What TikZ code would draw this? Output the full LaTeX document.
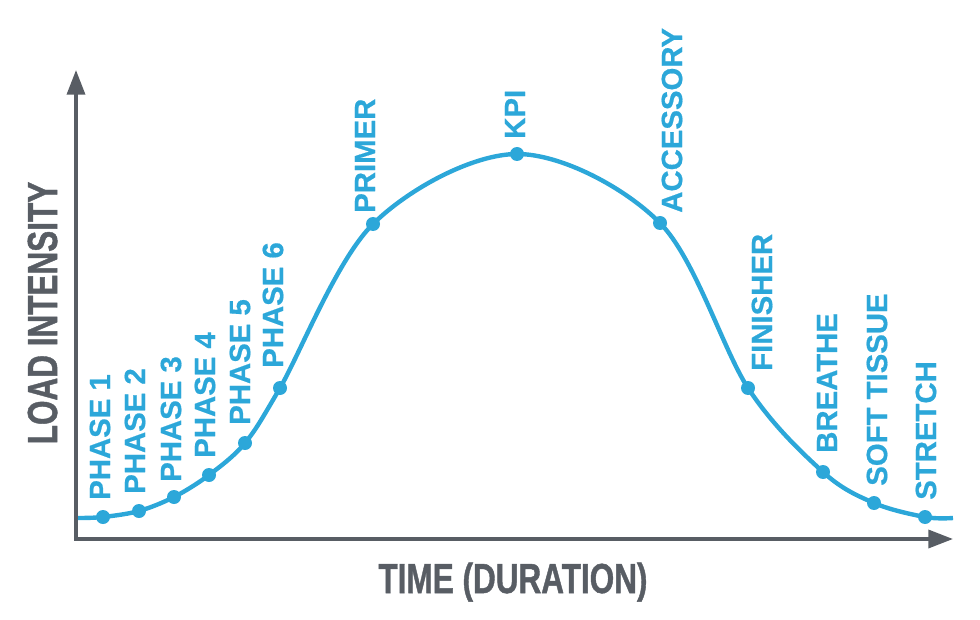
\documentclass[tikz,border=0pt]{standalone}
\usepackage{fontspec}
\setmainfont{Liberation Sans}
\newfontfamily\stagefont[FakeBold=0.6]{Liberation Sans Bold}
\newfontfamily\axisfont[FakeBold=1.2]{Liberation Sans Bold}
\usepackage{tikz}
\usetikzlibrary{arrows.meta,positioning,calc}
\definecolor{cCurve}{HTML}{2CA7D9}
\definecolor{cAxis} {HTML}{585D64}
\tikzset{
  axis/.style  ={draw=cAxis,line width=2.6pt,
                 {Triangle[length=18.5pt,width=13.5pt]}-{Triangle[length=18.5pt,width=13.5pt]}},
  curve/.style ={draw=cCurve,line width=3.3pt},
  dot/.style   ={circle,fill=cCurve,inner sep=0pt,minimum size=10.5pt},
  stage/.style ={rotate=90,anchor=west,inner sep=0pt,text=cCurve,
                 font=\fontsize{22}{22}\selectfont\stagefont},
  axlbl/.style ={inner sep=0pt,anchor=base,text=cAxis,
                 font=\fontsize{31.5}{31.5}\selectfont\axisfont},
}

\begin{document}
\begin{tikzpicture}[x=0.75pt, y=-0.75pt]
\useasboundingbox (0,0) rectangle (980,620);

% ===== axes ================================================================
\coordinate (org)  at (76,539);
\coordinate (ytip) at (76,70);
\coordinate (xtip) at (953,539);
\draw[axis] (ytip) -- (org) -- (xtip);

\node[axlbl] (ylab) at (513,593) {\scalebox{0.75}[1]{TIME (DURATION)}};
\node[axlbl,rotate=90] (xlab) at (57,313) {\scalebox{0.75}[1]{LOAD INTENSITY}};

% ===== session curve =======================================================
\coordinate (c0) at (78,518);
\coordinate (cE) at (953,518);
\foreach \n/\x/\y in {p1/103/517, p2/139/511, p3/174/497, p4/209/475, p5/245/443,
                      p6/280/388, pri/373/224, kpi/517/154, acc/660/223, fin/748/388,
                      bre/823/472, sft/874/503, str/925/517}{%
  \coordinate (\n) at (\x,\y);
}
\draw[curve] plot[smooth,tension=0.55] coordinates
  {(c0) (p1) (p2) (p3) (p4) (p5) (p6) (pri) (kpi) (acc) (fin) (bre) (sft) (str) (cE)};

% ===== stage markers and labels ============================================
\foreach \n/\dx/\gap/\txt in {p1/-3/17/PHASE 1, p2/-4/17/PHASE 2, p3/-3/15/PHASE 3,
                              p4/-4/17/PHASE 4, p5/-5/18/PHASE 5, p6/-7/20/PHASE 6,
                              pri/-8/11/PRIMER, kpi/-2/15/KPI, acc/12/10/ACCESSORY,
                              fin/14/17/FINISHER, bre/4/19/BREATHE,
                              sft/3/17/SOFT TISSUE, str/1/17/STRETCH}{%
  \node[dot] (\n-dot) at (\n) {};
  \node[stage] (\n-lbl) at ($(\n)+(\dx,-\gap)$) {\txt};
}
\end{tikzpicture}
\end{document}
